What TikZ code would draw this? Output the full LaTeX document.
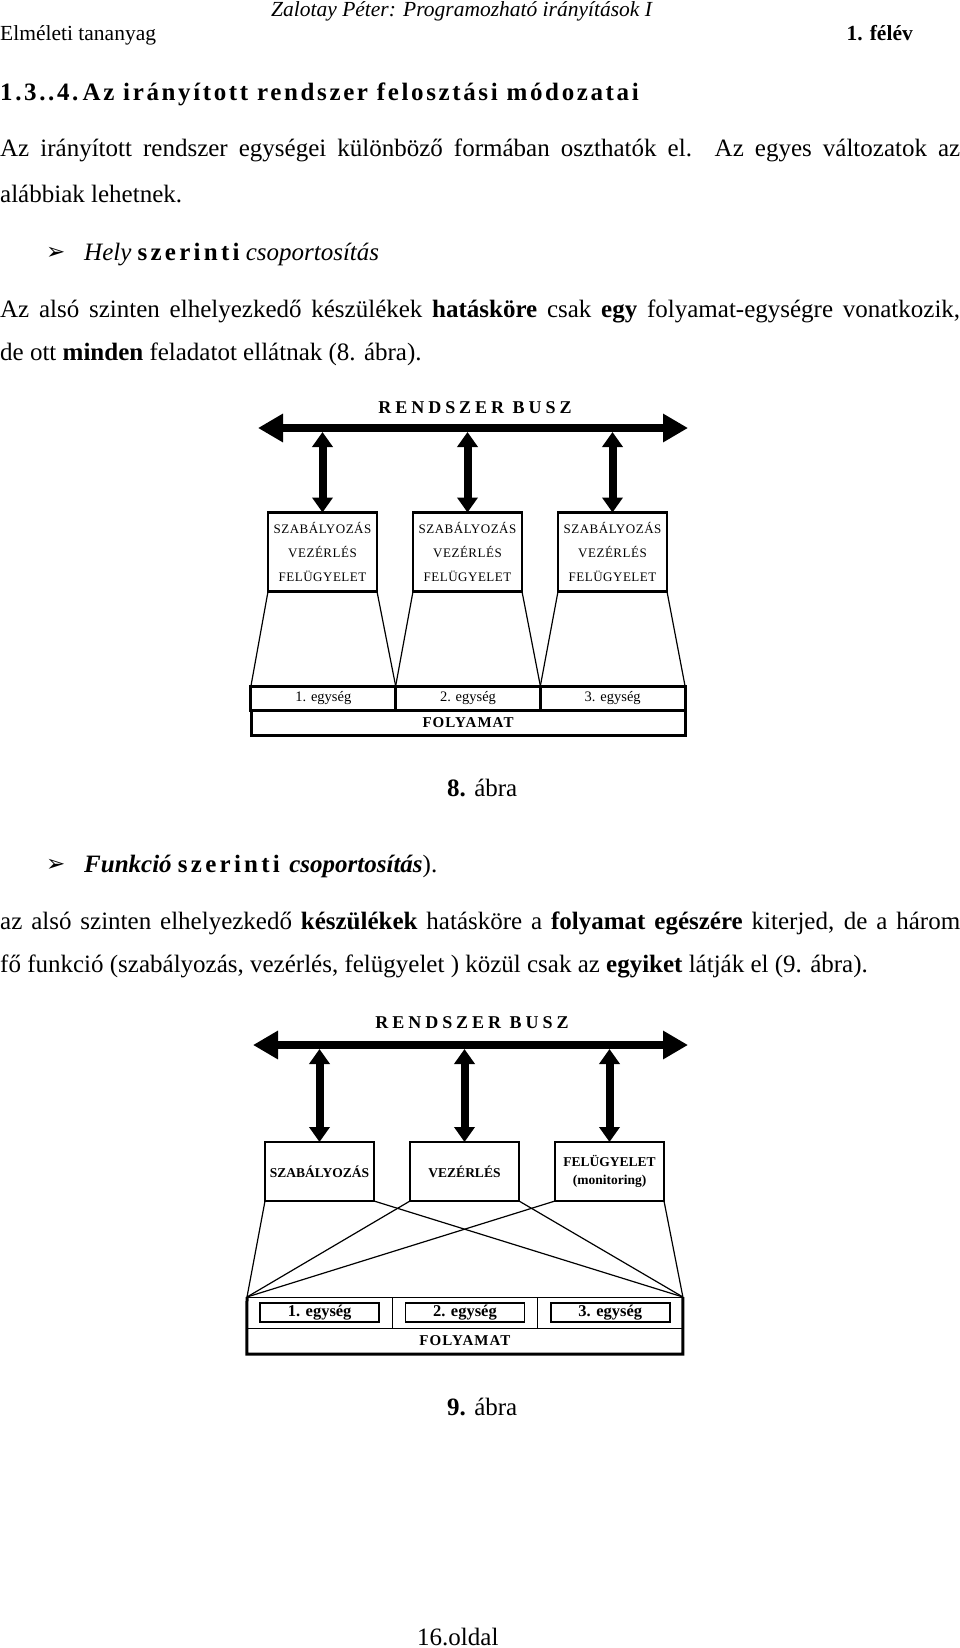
\documentclass[tikz,border=0pt]{standalone}
\usepackage{fontspec}
\setmainfont{Liberation Serif}
\newfontfamily\spacedfont[LetterSpace=13]{Liberation Serif}
\newfontfamily\busfont[LetterSpace=22]{Liberation Serif}
\newfontfamily\flowfont[LetterSpace=7]{Liberation Serif}
\newfontfamily\titlefont[LetterSpace=10.5]{Liberation Serif}
\newfontfamily\boxfont[LetterSpace=4]{Liberation Serif}
\newfontfamily\symfont{DejaVu Sans}
\usetikzlibrary{positioning,arrows.meta}

\newcommand{\bodysize}{\fontsize{25}{30}\selectfont}
\newcommand{\headsize}{\fontsize{21.5}{26}\selectfont}

\begin{document}
\begin{tikzpicture}[x=1pt, y=-1pt,
  txt/.style={inner sep=0pt, anchor=base west, font=\bodysize},
  head/.style={inner sep=0pt, anchor=base west, font=\headsize},
  buslabel/.style={inner sep=0pt, font=\busfont\bfseries\fontsize{18}{20}\selectfont},
  bus/.style={line width=8pt, {Triangle[length=25pt,width=27pt]}-{Triangle[length=25pt,width=27pt]}},
  link/.style={line width=8pt, shorten >=4pt, {Triangle[length=15pt,width=20pt]}-{Triangle[length=15pt,width=20pt]}},
  ctrl/.style={draw, line width=2.5pt, minimum width=109pt, minimum height=79pt, inner sep=0pt, outer sep=0pt, align=center,
    font=\boxfont\fontsize{13}{24}\selectfont},
  func/.style={draw, line width=2.5pt, minimum width=109pt, minimum height=59pt, inner sep=0pt, outer sep=0pt, align=center,
    font=\bfseries\fontsize{13.5}{18}\selectfont},
  unit/.style={draw, line width=3pt, minimum width=144.7pt, minimum height=24pt, inner sep=0pt, outer sep=0pt,
    font=\fontsize{14.5}{16}\selectfont},
  flow/.style={draw, line width=3pt, minimum width=434pt, minimum height=25pt, inner sep=0pt, outer sep=0pt,
    font=\flowfont\bfseries\fontsize{15}{16}\selectfont},
  cell/.style={draw, line width=1pt, minimum width=145.3pt, minimum height=31pt, inner sep=0pt, outer sep=0pt},
  tag/.style={draw, line width=1.5pt, minimum width=119pt, minimum height=19pt, inner sep=0pt,
    font=\bfseries\fontsize{16.5}{18}\selectfont},
  fan/.style={line width=1.2pt}]

  \useasboundingbox (0,0) rectangle (960,1648);

  % page head
  \node[head, font=\headsize\itshape] (author) at (271,17) {Zalotay Péter: Programozható irányítások I};
  \node[head] (course) at (0,41) {Elméleti tananyag};
  \node[head, anchor=base east, font=\headsize\bfseries] (term) at (913,41) {1. félév};
  \node[txt, font=\titlefont\bfseries\fontsize{25}{30}\selectfont] (title) at (0,101)
    {1.3..4.\,Az irányított rendszer felosztási módozatai};

  % first part
  \node[txt] (p1a) at (0,157) {\makebox[960pt][s]{Az irányított rendszer egységei különböző formában oszthatók el. Az egyes változatok az}};
  \node[txt] (p1b) at (0,202) {alábbiak lehetnek.};
  \node[txt, font=\symfont\fontsize{23}{26}\selectfont] (mark1) at (46,259) {➢};
  \node[txt] (item1) at (84,260) {\textit{Hely} {\spacedfont\bfseries szerinti} \textit{csoportosítás}};
  \node[txt] (p2a) at (0,317) {\makebox[960pt][s]{Az alsó szinten elhelyezkedő készülékek \textbf{hatásköre} csak \textbf{egy} folyamat-egységre vonatkozik,}};
  \node[txt] (p2b) at (0,360) {de ott \textbf{minden} feladatot ellátnak (8. ábra).};

  % 8. abra
  \node[buslabel] (busnameA) at (475,408) {RENDSZER BUSZ};
  \coordinate (busA1) at (258,428);
  \coordinate (busA2) at (688,428);
  \draw[bus] (busA1) -- (busA2);

  \node[ctrl] (cA1) at (322.5,552) {SZABÁLYOZÁS\\VEZÉRLÉS\\FELÜGYELET};
  \node[ctrl, right=36pt of cA1] (cA2) {SZABÁLYOZÁS\\VEZÉRLÉS\\FELÜGYELET};
  \node[ctrl, right=36pt of cA2] (cA3) {SZABÁLYOZÁS\\VEZÉRLÉS\\FELÜGYELET};
  \foreach \b in {cA1,cA2,cA3}
    \draw[link] (\b.north) -- (\b.north |- busA1);

  \node[unit] (uA1) at (323.3,698) {1. egység};
  \node[unit, right=0pt of uA1] (uA2) {2. egység};
  \node[unit, right=0pt of uA2] (uA3) {3. egység};
  \node[flow, below=0pt of uA2] (fA) {FOLYAMAT};
  \foreach \i in {1,2,3} {
    \draw[fan] (cA\i.south west) -- (uA\i.north west);
    \draw[fan] (cA\i.south east) -- (uA\i.north east);
  }
  \node[txt] (capA) at (447,796) {\textbf{8.} ábra};

  % second part
  \node[txt, font=\symfont\fontsize{23}{26}\selectfont] (mark2) at (46,871) {➢};
  \node[txt] (item2) at (84,872) {\textbf{\textit{Funkció}} {\spacedfont\bfseries szerinti} \textbf{\textit{csoportosítás}}).};
  \node[txt] (p3a) at (0,929) {\makebox[960pt][s]{az alsó szinten elhelyezkedő \textbf{készülékek} hatásköre a \textbf{folyamat egészére} kiterjed, de a három}};
  \node[txt] (p3b) at (0,972) {fő funkció (szabályozás, vezérlés, felügyelet ) közül csak az \textbf{egyiket} látják el (9. ábra).};

  % 9. abra
  \node[buslabel] (busnameB) at (472,1023) {RENDSZER BUSZ};
  \coordinate (busB1) at (253,1045);
  \coordinate (busB2) at (688,1045);
  \draw[bus] (busB1) -- (busB2);

  \node[func] (cB1) at (319.5,1171.5) {SZABÁLYOZÁS};
  \node[func, right=36pt of cB1] (cB2) {VEZÉRLÉS};
  \node[func, right=36pt of cB2] (cB3) {FELÜGYELET\\(monitoring)};
  \foreach \b in {cB1,cB2,cB3}
    \draw[link] (\b.north) -- (\b.north |- busB1);

  \node[cell] (uB1) at (319.65,1312.5) {};
  \node[cell, right=0pt of uB1] (uB2) {};
  \node[cell, right=0pt of uB2] (uB3) {};
  \node[cell, minimum width=436pt, minimum height=26pt, below=0pt of uB2, font=\flowfont\bfseries\fontsize{15}{16}\selectfont] (fB) {FOLYAMAT};
  \draw[line width=3pt] (uB1.north west) -- (fB.south west) -- (fB.south east) -- (uB3.north east);
  \foreach \i in {1,2,3}
    \node[tag] (tB\i) at (uB\i.center) {\i. egység};
  \foreach \i in {1,2,3} {
    \draw[fan] (cB\i.south west) -- (uB1.north west);
    \draw[fan] (cB\i.south east) -- (uB3.north east);
  }
  \node[txt] (capB) at (447,1415) {\textbf{9.} ábra};

  \node[txt] (pageno) at (417,1645) {16.oldal};
\end{tikzpicture}
\end{document}
